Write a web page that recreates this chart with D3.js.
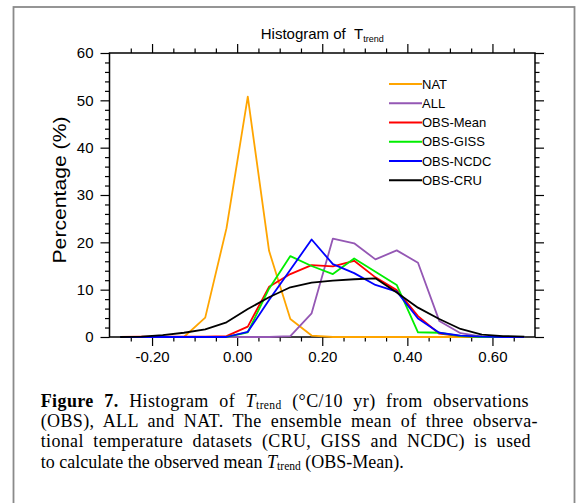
<!DOCTYPE html>
<html><head><meta charset="utf-8">
<script src="https://cdn.jsdelivr.net/npm/d3@7"></script>
<style>body{margin:0;background:#fff} svg{display:block}</style>
</head><body><svg id="c" width="579" height="503"></svg>
<script>
// ---- data ----
const binCenters = [-0.275,-0.225,-0.175,-0.125,-0.075,-0.025,0.025,0.075,0.125,0.175,0.225,0.275,0.325,0.375,0.425,0.475,0.525,0.575,0.625,0.675];
const natValues  = [0,0,0,0,4.1,23.0,50.8,18.2,3.8,0.3,0,0,0,0,0,0,0,0,0,0];
const allValues  = [0,0,0,0,0,0,0,0,0.2,5.0,20.8,19.8,16.4,18.3,15.7,3.4,0.8,0.1,0,0];
const meanValues = [0,0.1,0.1,0.1,0.1,0.2,2.2,10.6,13.3,15.2,14.9,16.1,12.6,9.9,4.4,0.7,0.2,0,0,0];
const gissValues = [0,0,0,0,0,0,1.0,10.2,17.1,15.0,13.3,16.6,13.8,11.0,1.0,0.9,0.2,0,0,0];
const ncdcValues = [0,0,0,0,0,0,1.1,7.8,14.2,20.6,15.4,13.5,11.0,9.6,3.9,0.9,0.3,0.1,0,0];
const cruValues  = [0,0.1,0.4,0.9,1.6,3.1,5.9,8.4,10.5,11.5,11.9,12.2,12.4,9.4,6.2,3.8,1.7,0.5,0.2,0.1];
const seriesNames = ["NAT","ALL","OBS-Mean","OBS-GISS","OBS-NCDC","OBS-CRU"];
const seriesColors = ["#ffa500","#9457b4","#ff0000","#00ee00","#0000ff","#000000"];
const xTickValues = [-0.2,0,0.2,0.4,0.6];
const xTickLabels = ["-0.20","0.00","0.20","0.40","0.60"];
const xMinorTicks = [-0.25,-0.15,-0.1,-0.05,0.05,0.1,0.15,0.25,0.3,0.35,0.45,0.5,0.55,0.65];
const yTickValues = [0,10,20,30,40,50,60];
const yMinorTicks = [2,4,6,8,12,14,16,18,22,24,26,28,32,34,36,38,42,44,46,48,52,54,56,58];

const seriesValues = [natValues, allValues, meanValues, gissValues, ncdcValues, cruValues];

const svg = d3.select("#c");
const sans = "'Liberation Sans', Arial, Helvetica, sans-serif";
const serif = "'Liberation Serif', 'Times New Roman', serif";
const P = {left:109.5, right:535, top:53, bottom:337};
const x = d3.scaleLinear().domain([-0.3,0.7]).range([P.left,P.right]);
const y = d3.scaleLinear().domain([0,60]).range([P.bottom,P.top]);

// outer frame
svg.append("rect").attr("x",13.5).attr("y",7).attr("width",561).attr("height",520)
  .attr("fill","none").attr("stroke","#8a8a8a").attr("stroke-width",1.8);

function addAxis(axis, tr){
  const g = svg.append("g").attr("transform",tr).call(axis);
  g.select(".domain").remove();
  g.selectAll("line").attr("stroke","#000").attr("stroke-width",1.2);
  g.selectAll("text").attr("font-family",sans).attr("font-size",15).attr("fill","#000");
  return g;
}
// bottom
addAxis(d3.axisBottom(x).tickValues(xTickValues).tickSize(9).tickPadding(5.5).tickFormat((d,i)=>xTickLabels[i]), `translate(0,${P.bottom})`);
addAxis(d3.axisBottom(x).tickValues(xMinorTicks).tickSize(4.5).tickFormat(""), `translate(0,${P.bottom})`);
// top
addAxis(d3.axisTop(x).tickValues(xTickValues).tickSize(9).tickFormat(""), `translate(0,${P.top})`);
addAxis(d3.axisTop(x).tickValues(xMinorTicks).tickSize(4.5).tickFormat(""), `translate(0,${P.top})`);
// left
addAxis(d3.axisLeft(y).tickValues(yTickValues).tickSize(9).tickPadding(7).tickFormat(d3.format("d")), `translate(${P.left},0)`);
addAxis(d3.axisLeft(y).tickValues(yMinorTicks).tickSize(4.5).tickFormat(""), `translate(${P.left},0)`);
// right
addAxis(d3.axisRight(y).tickValues(yTickValues).tickSize(9).tickFormat(""), `translate(${P.right},0)`);
addAxis(d3.axisRight(y).tickValues(yMinorTicks).tickSize(4.5).tickFormat(""), `translate(${P.right},0)`);

// plot frame
svg.append("rect").attr("x",P.left).attr("y",P.top).attr("width",P.right-P.left).attr("height",P.bottom-P.top)
  .attr("fill","none").attr("stroke","#000").attr("stroke-width",1.5);

// lines
const line = d3.line().x((d,i)=>x(binCenters[i])).y(d=>y(d));
seriesValues.forEach((vals,k)=>{
  svg.append("path").datum(vals).attr("d",line).attr("fill","none")
    .attr("stroke",seriesColors[k]).attr("stroke-width",1.8).attr("stroke-linejoin","round");
});

// legend
const lg = svg.append("g");
seriesNames.forEach((n,k)=>{
  const yy = 84 + k*19.25;
  lg.append("line").attr("x1",389).attr("x2",422).attr("y1",yy).attr("y2",yy)
    .attr("stroke",seriesColors[k]).attr("stroke-width",1.8);
  lg.append("text").attr("x",422).attr("y",yy).attr("dy","0.36em").attr("font-family",sans)
    .attr("font-size",13).attr("fill","#000").text(n);
});

// title
const t = svg.append("text").attr("x",(P.left+P.right)/2).attr("y",39).attr("text-anchor","middle")
  .attr("font-family",sans).attr("font-size",15).attr("fill","#000");
t.append("tspan").text("Histogram of\u00A0\u00A0T");
t.append("tspan").attr("font-size",9).attr("dy",3).text("trend");

// y label
svg.append("text").attr("transform","translate(65.7,190) rotate(-90)").attr("text-anchor","middle")
  .attr("font-family",sans).attr("font-size",18).attr("fill","#000")
  .attr("textLength",147).attr("lengthAdjust","spacingAndGlyphs").text("Percentage (%)");

// caption
const capLines = [
  {parts:[{t:"Figure 7.",b:1},{t:" Histogram of "},{t:"T",i:1},{t:"trend",s:1},{t:" (°C/10 yr) from observations"}], right:529},
  {parts:[{t:"(OBS), ALL and NAT. The ensemble mean of three observa-"}], right:538},
  {parts:[{t:"tional temperature datasets (CRU, GISS and NCDC) is used"}], right:531},
  {parts:[{t:"to calculate the observed mean "},{t:"T",i:1},{t:"trend",s:1},{t:" (OBS-Mean)."}], right:null}
];
capLines.forEach((ln,k)=>{
  const tx = svg.append("text").attr("x",40.7).attr("y",406.5+k*20.4)
    .attr("font-family",serif).attr("font-size",18).attr("fill","#000").attr("xml:space","preserve");
  let sub=false; let spaces=0; let chars=0;
  ln.parts.forEach(p=>{
    const ts = tx.append("tspan").text(p.t);
    spaces += (p.t.match(/ /g)||[]).length;
    chars += p.t.length;
    if(p.b) ts.attr("font-weight","bold");
    if(p.i) ts.attr("font-style","italic");
    if(p.s){ ts.attr("font-size",11.5).attr("dy",2.5); sub=true; }
    else if(sub){ ts.attr("dy",-2.5); sub=false; }
  });
  if(ln.right){
    const len = tx.node().getComputedTextLength();
    const extra = ln.right - (40.7+len);
    if(extra>0){
      const ls = Math.min(0.4, extra*0.35/chars);
      tx.attr("letter-spacing", ls);
      const len2 = tx.node().getComputedTextLength();
      const rest = ln.right - (40.7+len2);
      if(spaces>0 && rest>0) tx.attr("word-spacing", rest/spaces);
    }
  }
});
</script></body></html>
